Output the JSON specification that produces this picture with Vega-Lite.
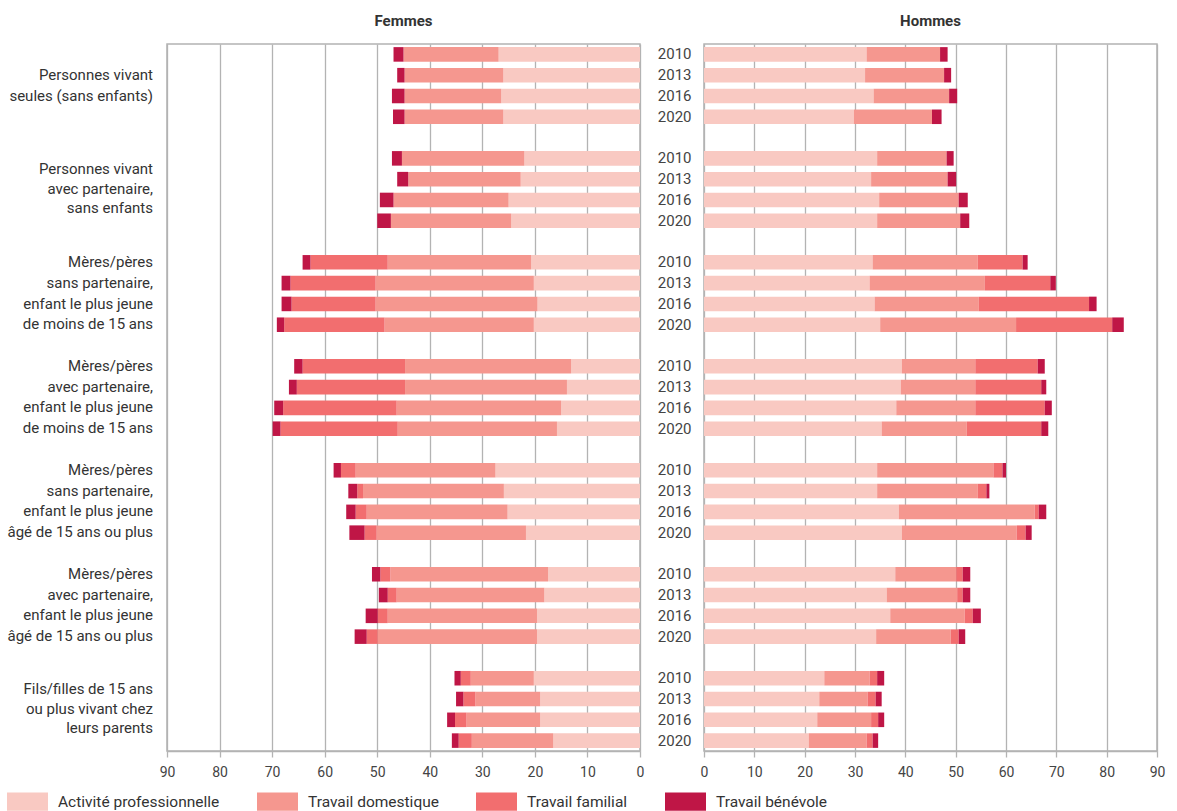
{
  "$schema": "https://vega.github.io/schema/vega-lite/v6.json",
  "padding": {"left": 6, "top": 13, "right": 5, "bottom": 5},
  "config": {
    "font": "Roboto",
    "view": {"stroke": "#b3b3b3", "strokeWidth": 1.5},
    "title": {"fontSize": 15, "fontWeight": "bold", "color": "#333", "anchor": "middle", "offset": 15},
    "axisX": {"values": [0,10,20,30,40,50,60,70,80,90], "grid": true, "gridColor": "#b3b3b3", "gridWidth": 1.3, "domainColor": "#b3b3b3", "domainWidth": 1.5, "tickColor": "#b3b3b3", "tickSize": 6, "tickWidth": 1.3, "labelFontSize": 14, "labelColor": "#444", "labelPadding": 8, "labelFlush": false, "title": null},
    "legend": {"orient": "none", "legendX": -160, "legendY": 737, "direction": "horizontal", "title": null, "symbolType": "M-1,-0.45H1V0.45H-1Z", "symbolSize": 1681, "symbolStrokeWidth": 0, "symbolOpacity": 1, "labelFontSize": 15.5, "labelLimit": 400, "labelColor": "#333", "columnPadding": 37, "labelOffset": 10}
  },
  "datasets": {
    "bars": [
      {"s":"F","g":1,"a":"2010","Activité professionnelle":26.9,"Travail domestique":18.1,"Travail familial":0,"Travail bénévole":1.9},
      {"s":"F","g":1,"a":"2013","Activité professionnelle":26.0,"Travail domestique":18.8,"Travail familial":0,"Travail bénévole":1.4},
      {"s":"F","g":1,"a":"2016","Activité professionnelle":26.4,"Travail domestique":18.4,"Travail familial":0,"Travail bénévole":2.4},
      {"s":"F","g":1,"a":"2020","Activité professionnelle":26.0,"Travail domestique":18.8,"Travail familial":0,"Travail bénévole":2.2},
      {"s":"F","g":2,"a":"2010","Activité professionnelle":22.0,"Travail domestique":23.3,"Travail familial":0,"Travail bénévole":1.9},
      {"s":"F","g":2,"a":"2013","Activité professionnelle":22.7,"Travail domestique":21.4,"Travail familial":0,"Travail bénévole":2.1},
      {"s":"F","g":2,"a":"2016","Activité professionnelle":25.0,"Travail domestique":21.9,"Travail familial":0,"Travail bénévole":2.6},
      {"s":"F","g":2,"a":"2020","Activité professionnelle":24.5,"Travail domestique":22.9,"Travail familial":0,"Travail bénévole":2.6},
      {"s":"F","g":3,"a":"2010","Activité professionnelle":20.7,"Travail domestique":27.3,"Travail familial":14.7,"Travail bénévole":1.5},
      {"s":"F","g":3,"a":"2013","Activité professionnelle":20.2,"Travail domestique":30.1,"Travail familial":16.2,"Travail bénévole":1.7},
      {"s":"F","g":3,"a":"2016","Activité professionnelle":19.5,"Travail domestique":30.8,"Travail familial":16.0,"Travail bénévole":1.9},
      {"s":"F","g":3,"a":"2020","Activité professionnelle":20.2,"Travail domestique":28.4,"Travail familial":19.1,"Travail bénévole":1.4},
      {"s":"F","g":4,"a":"2010","Activité professionnelle":13.1,"Travail domestique":31.6,"Travail familial":19.5,"Travail bénévole":1.6},
      {"s":"F","g":4,"a":"2013","Activité professionnelle":13.9,"Travail domestique":30.8,"Travail familial":20.6,"Travail bénévole":1.5},
      {"s":"F","g":4,"a":"2016","Activité professionnelle":15.0,"Travail domestique":31.3,"Travail familial":21.6,"Travail bénévole":1.7},
      {"s":"F","g":4,"a":"2020","Activité professionnelle":15.8,"Travail domestique":30.3,"Travail familial":22.3,"Travail bénévole":1.5},
      {"s":"F","g":5,"a":"2010","Activité professionnelle":27.5,"Travail domestique":26.6,"Travail familial":2.8,"Travail bénévole":1.4},
      {"s":"F","g":5,"a":"2013","Activité professionnelle":25.9,"Travail domestique":26.8,"Travail familial":1.1,"Travail bénévole":1.7},
      {"s":"F","g":5,"a":"2016","Activité professionnelle":25.2,"Travail domestique":26.8,"Travail familial":2.1,"Travail bénévole":1.8},
      {"s":"F","g":5,"a":"2020","Activité professionnelle":21.7,"Travail domestique":28.4,"Travail familial":2.3,"Travail bénévole":2.9},
      {"s":"F","g":6,"a":"2010","Activité professionnelle":17.5,"Travail domestique":30.0,"Travail familial":1.9,"Travail bénévole":1.6},
      {"s":"F","g":6,"a":"2013","Activité professionnelle":18.2,"Travail domestique":28.1,"Travail familial":1.7,"Travail bénévole":1.7},
      {"s":"F","g":6,"a":"2016","Activité professionnelle":19.6,"Travail domestique":28.4,"Travail familial":1.9,"Travail bénévole":2.3},
      {"s":"F","g":6,"a":"2020","Activité professionnelle":19.6,"Travail domestique":30.3,"Travail familial":2.1,"Travail bénévole":2.3},
      {"s":"F","g":7,"a":"2010","Activité professionnelle":20.2,"Travail domestique":12.0,"Travail familial":1.9,"Travail bénévole":1.2},
      {"s":"F","g":7,"a":"2013","Activité professionnelle":19.0,"Travail domestique":12.3,"Travail familial":2.3,"Travail bénévole":1.4},
      {"s":"F","g":7,"a":"2016","Activité professionnelle":19.0,"Travail domestique":14.0,"Travail familial":2.2,"Travail bénévole":1.5},
      {"s":"F","g":7,"a":"2020","Activité professionnelle":16.5,"Travail domestique":15.5,"Travail familial":2.5,"Travail bénévole":1.3},
      {"s":"H","g":1,"a":"2010","Activité professionnelle":32.3,"Travail domestique":14.6,"Travail familial":0,"Travail bénévole":1.5},
      {"s":"H","g":1,"a":"2013","Activité professionnelle":32.0,"Travail domestique":15.7,"Travail familial":0,"Travail bénévole":1.4},
      {"s":"H","g":1,"a":"2016","Activité professionnelle":33.7,"Travail domestique":15.0,"Travail familial":0,"Travail bénévole":1.6},
      {"s":"H","g":1,"a":"2020","Activité professionnelle":29.8,"Travail domestique":15.5,"Travail familial":0,"Travail bénévole":1.9},
      {"s":"H","g":2,"a":"2010","Activité professionnelle":34.4,"Travail domestique":13.8,"Travail familial":0,"Travail bénévole":1.4},
      {"s":"H","g":2,"a":"2013","Activité professionnelle":33.2,"Travail domestique":15.2,"Travail familial":0,"Travail bénévole":1.7},
      {"s":"H","g":2,"a":"2016","Activité professionnelle":34.8,"Travail domestique":15.8,"Travail familial":0,"Travail bénévole":1.8},
      {"s":"H","g":2,"a":"2020","Activité professionnelle":34.4,"Travail domestique":16.5,"Travail familial":0,"Travail bénévole":1.8},
      {"s":"H","g":3,"a":"2010","Activité professionnelle":33.5,"Travail domestique":20.9,"Travail familial":8.9,"Travail bénévole":1.0},
      {"s":"H","g":3,"a":"2013","Activité professionnelle":32.9,"Travail domestique":22.9,"Travail familial":13.0,"Travail bénévole":1.1},
      {"s":"H","g":3,"a":"2016","Activité professionnelle":33.9,"Travail domestique":20.7,"Travail familial":21.9,"Travail bénévole":1.5},
      {"s":"H","g":3,"a":"2020","Activité professionnelle":35.0,"Travail domestique":27.0,"Travail familial":19.1,"Travail bénévole":2.3},
      {"s":"H","g":4,"a":"2010","Activité professionnelle":39.3,"Travail domestique":14.6,"Travail familial":12.4,"Travail bénévole":1.4},
      {"s":"H","g":4,"a":"2013","Activité professionnelle":39.1,"Travail domestique":14.8,"Travail familial":13.1,"Travail bénévole":1.0},
      {"s":"H","g":4,"a":"2016","Activité professionnelle":38.2,"Travail domestique":15.7,"Travail familial":13.8,"Travail bénévole":1.4},
      {"s":"H","g":4,"a":"2020","Activité professionnelle":35.3,"Travail domestique":16.9,"Travail familial":14.8,"Travail bénévole":1.4},
      {"s":"H","g":5,"a":"2010","Activité professionnelle":34.4,"Travail domestique":23.1,"Travail familial":1.8,"Travail bénévole":0.7},
      {"s":"H","g":5,"a":"2013","Activité professionnelle":34.4,"Travail domestique":20.0,"Travail familial":1.7,"Travail bénévole":0.6},
      {"s":"H","g":5,"a":"2016","Activité professionnelle":38.7,"Travail domestique":27.0,"Travail familial":0.8,"Travail bénévole":1.5},
      {"s":"H","g":5,"a":"2020","Activité professionnelle":39.3,"Travail domestique":22.8,"Travail familial":1.8,"Travail bénévole":1.2},
      {"s":"H","g":6,"a":"2010","Activité professionnelle":38.0,"Travail domestique":12.1,"Travail familial":1.3,"Travail bénévole":1.5},
      {"s":"H","g":6,"a":"2013","Activité professionnelle":36.3,"Travail domestique":14.0,"Travail familial":1.1,"Travail bénévole":1.5},
      {"s":"H","g":6,"a":"2016","Activité professionnelle":37.0,"Travail domestique":14.8,"Travail familial":1.6,"Travail bénévole":1.6},
      {"s":"H","g":6,"a":"2020","Activité professionnelle":34.2,"Travail domestique":14.8,"Travail familial":1.6,"Travail bénévole":1.3},
      {"s":"H","g":7,"a":"2010","Activité professionnelle":23.9,"Travail domestique":9.0,"Travail familial":1.5,"Travail bénévole":1.4},
      {"s":"H","g":7,"a":"2013","Activité professionnelle":22.9,"Travail domestique":9.6,"Travail familial":1.6,"Travail bénévole":1.2},
      {"s":"H","g":7,"a":"2016","Activité professionnelle":22.5,"Travail domestique":10.7,"Travail familial":1.4,"Travail bénévole":1.2},
      {"s":"H","g":7,"a":"2020","Activité professionnelle":20.8,"Travail domestique":11.5,"Travail familial":1.2,"Travail bénévole":1.1}
    ],
    "groupes": [
      {"g":1,"label":"Personnes vivant\nseules (sans enfants)"},
      {"g":2,"label":"Personnes vivant\navec partenaire,\nsans enfants"},
      {"g":3,"label":"Mères/pères\nsans partenaire,\nenfant le plus jeune\nde moins de 15 ans"},
      {"g":4,"label":"Mères/pères\navec partenaire,\nenfant le plus jeune\nde moins de 15 ans"},
      {"g":5,"label":"Mères/pères\nsans partenaire,\nenfant le plus jeune\nâgé de 15 ans ou plus"},
      {"g":6,"label":"Mères/pères\navec partenaire,\nenfant le plus jeune\nâgé de 15 ans ou plus"},
      {"g":7,"label":"Fils/filles de 15 ans\nou plus vivant chez\nleurs parents"}
    ]
  },
  "spacing": 11,
  "resolve": {"scale": {"x": "independent", "y": "shared"}, "axis": {"y": "independent"}},
  "hconcat": [
    {
      "title": "Femmes",
      "width": 473,
      "height": 707,
      "layer": [
        {
          "data": {"name": "bars"},
          "transform": [
            {"filter": "datum.s == 'F'"},
            {"fold": ["Activité professionnelle", "Travail domestique", "Travail familial", "Travail bénévole"], "as": ["activite", "heures"]},
            {"calculate": "datum.g + '|' + datum.a", "as": "row"},
            {"calculate": "indexof(['Activité professionnelle', 'Travail domestique', 'Travail familial', 'Travail bénévole'], datum.activite)", "as": "ord"}
          ],
          "mark": {"type": "bar"},
          "encoding": {
            "y": {"field": "row", "type": "nominal", "scale": {"domain": ["1|2010","1|2013","1|2016","1|2020","1|gap","2|2010","2|2013","2|2016","2|2020","2|gap","3|2010","3|2013","3|2016","3|2020","3|gap","4|2010","4|2013","4|2016","4|2020","4|gap","5|2010","5|2013","5|2016","5|2020","5|gap","6|2010","6|2013","6|2016","6|2020","6|gap","7|2010","7|2013","7|2016","7|2020"], "paddingInner": 0.3, "paddingOuter": 0.15}, "axis": null},
            "x": {"field": "heures", "type": "quantitative", "stack": "zero", "scale": {"domain": [0, 90], "reverse": true, "nice": false}},
            "color": {"field": "activite", "type": "nominal", "scale": {"domain": ["Activité professionnelle", "Travail domestique", "Travail familial", "Travail bénévole"], "range": ["#f9c9c2", "#f5978f", "#f26e6f", "#bf1646"]}},
            "order": {"field": "ord", "type": "quantitative"}
          }
        },
        {
          "data": {"name": "groupes"},
          "transform": [
            {"calculate": "length(split(datum.label, '\\n'))", "as": "n"},
            {"filter": "datum.n != 3"},
            {"calculate": "datum.g + '|' + (datum.n == 2 ? '2013' : '2010')", "as": "row"}
          ],
          "mark": {"type": "text", "align": "right", "baseline": "middle", "dx": -14, "dy": 0, "lineBreak": "\n", "fontSize": 15, "lineHeight": 20.6, "color": "#333"},
          "encoding": {
            "y": {"field": "row", "type": "nominal", "axis": null},
            "x": {"datum": 90},
            "text": {"field": "label"}
          }
        },
        {
          "data": {"name": "groupes"},
          "transform": [
            {"calculate": "length(split(datum.label, '\\n'))", "as": "n"},
            {"filter": "datum.n == 3"},
            {"calculate": "datum.g + '|2010'", "as": "row"}
          ],
          "mark": {"type": "text", "align": "right", "baseline": "middle", "dx": -14, "dy": 11, "lineBreak": "\n", "fontSize": 15, "lineHeight": 19.3, "color": "#333"},
          "encoding": {
            "y": {"field": "row", "type": "nominal", "axis": null},
            "x": {"datum": 90},
            "text": {"field": "label"}
          }
        }
      ]
    },
    {
      "title": "Hommes",
      "width": 453,
      "height": 707,
      "data": {"name": "bars"},
      "transform": [
        {"filter": "datum.s == 'H'"},
        {"fold": ["Activité professionnelle", "Travail domestique", "Travail familial", "Travail bénévole"], "as": ["activite", "heures"]},
        {"calculate": "datum.g + '|' + datum.a", "as": "row"},
        {"calculate": "indexof(['Activité professionnelle', 'Travail domestique', 'Travail familial', 'Travail bénévole'], datum.activite)", "as": "ord"}
      ],
      "mark": {"type": "bar"},
      "encoding": {
        "y": {"field": "row", "type": "nominal", "scale": {"domain": ["1|2010","1|2013","1|2016","1|2020","1|gap","2|2010","2|2013","2|2016","2|2020","2|gap","3|2010","3|2013","3|2016","3|2020","3|gap","4|2010","4|2013","4|2016","4|2020","4|gap","5|2010","5|2013","5|2016","5|2020","5|gap","6|2010","6|2013","6|2016","6|2020","6|gap","7|2010","7|2013","7|2016","7|2020"], "paddingInner": 0.3, "paddingOuter": 0.15}, "axis": {"title": null, "orient": "left", "ticks": false, "domain": false, "labelExpr": "indexof(datum.value, 'gap') >= 0 ? '' : slice(datum.value, 2)", "labelFontSize": 15, "labelColor": "#444", "labelPadding": 13}},
        "x": {"field": "heures", "type": "quantitative", "stack": "zero", "scale": {"domain": [0, 90], "nice": false}},
        "color": {"field": "activite", "type": "nominal"},
        "order": {"field": "ord", "type": "quantitative"}
      }
    }
  ]
}
